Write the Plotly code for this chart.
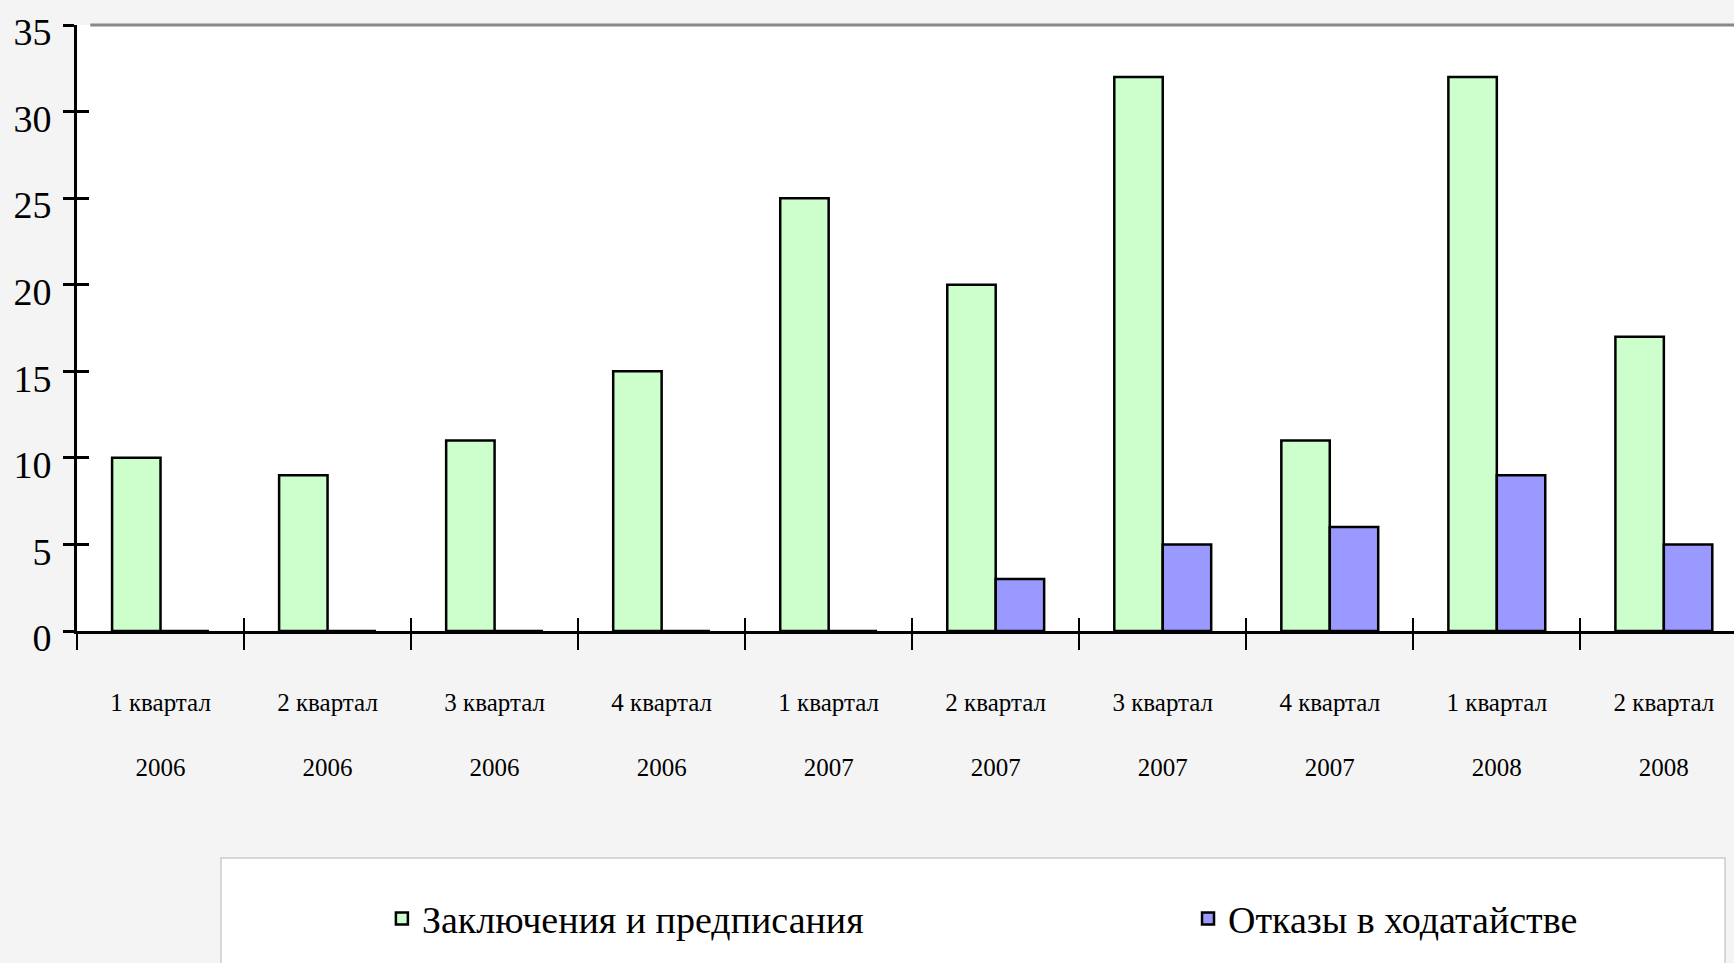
import plotly.graph_objects as go

categories = ["1 квартал<br><br>2006", "2 квартал<br><br>2006", "3 квартал<br><br>2006", "4 квартал<br><br>2006",
              "1 квартал<br><br>2007", "2 квартал<br><br>2007", "3 квартал<br><br>2007", "4 квартал<br><br>2007",
              "1 квартал<br><br>2008", "2 квартал<br><br>2008"]
conclusions = [10, 9, 11, 15, 25, 20, 32, 11, 32, 17]
refusals = [0, 0, 0, 0, 0, 3, 5, 6, 9, 5]
series_names = ["Заключения и предписания", "Отказы в ходатайстве"]
y_ticks = [0, 5, 10, 15, 20, 25, 30, 35]

FONT = "Liberation Serif"
xr = [-0.5, 9.42]

fig = go.Figure()
fig.add_trace(go.Bar(x=categories, y=conclusions, name=series_names[0], legend="legend",
                     marker=dict(color="#CCFFCC", line=dict(color="black", width=2.5))))
fig.add_trace(go.Bar(x=categories, y=refusals, name=series_names[1], legend="legend2",
                     marker=dict(color="#9999FF", line=dict(color="black", width=2.5))))
# invisible trace for overlay axes (crossing ticks)
fig.add_trace(go.Scatter(x=[0], y=[0], xaxis="x2", yaxis="y2", mode="markers",
                         marker=dict(opacity=0), showlegend=False, hoverinfo="skip"))

legend_common = dict(orientation="h", y=-0.475, xanchor="left", yanchor="middle",
                     font=dict(family=FONT, size=38, color="black"),
                     bgcolor="rgba(0,0,0,0)", borderwidth=0)

fig.update_layout(
    width=1734, height=963,
    margin=dict(l=77, r=0, t=25, b=332, autoexpand=False),
    paper_bgcolor="#f4f4f4", plot_bgcolor="white",
    barmode="group", bargap=0.42, bargroupgap=0,
    font=dict(family=FONT, color="black"),
    xaxis=dict(type="category", categoryorder="array", categoryarray=categories,
               range=xr, showline=True, linecolor="black", linewidth=3,
               ticks="outside", tickson="boundaries", ticklen=16, tickwidth=2, tickcolor="black",
               tickfont=dict(family=FONT, size=25, color="black"), ticklabelstandoff=47,
               showgrid=False, zeroline=False, tickangle=0, automargin=False),
    yaxis=dict(range=[0, 35], tickvals=y_ticks, showline=True, linecolor="black", linewidth=3,
               ticks="outside", ticklen=11, tickwidth=3, tickcolor="black",
               tickfont=dict(family=FONT, size=38, color="black"), ticklabelstandoff=4,
               ticklabelshift=7,
               showgrid=False, zeroline=False, automargin=False),
    xaxis2=dict(overlaying="x", anchor="y2", range=xr, tick0=0.5, dtick=1,
                ticks="inside", ticklen=13, tickwidth=2, tickcolor="black",
                showticklabels=False, showgrid=False, zeroline=False, showline=False),
    yaxis2=dict(overlaying="y", anchor="x2", range=[0, 35], tickvals=y_ticks,
                ticks="inside", ticklen=12, tickwidth=3, tickcolor="black",
                showticklabels=False, showgrid=False, zeroline=False, showline=False),
    legend=dict(x=0.184, **legend_common),
    legend2=dict(x=0.6705, **legend_common),
    shapes=[
        dict(type="rect", xref="paper", yref="paper", x0=0.0869, x1=0.9946, y0=-0.3746, y1=-0.62,
             line=dict(color="#cccccc", width=1.5), fillcolor="white", layer="below"),
        dict(type="line", xref="paper", yref="paper", x0=0.008, x1=1, y0=1, y1=1,
             line=dict(color="#888888", width=3)),
    ],
)

fig.write_html("out.html", config={"displayModeBar": False},
               post_script="document.body.style.margin='0';document.body.style.overflow='hidden';")
